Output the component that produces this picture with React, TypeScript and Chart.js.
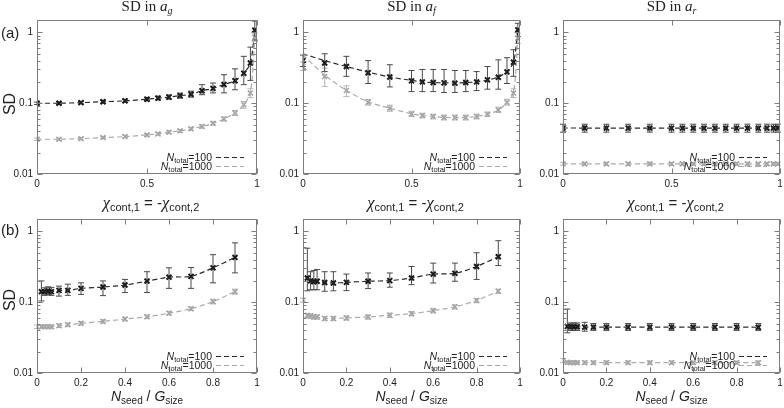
import React, { useEffect, useRef } from "react";
import { Chart, registerables } from "chart.js";

Chart.register(...registerables);

type Num = number | null;

// ---------- data: row (a), x = χcont,1 ----------
const xA = [0, 0.1, 0.2, 0.3, 0.4, 0.5, 0.55, 0.6, 0.65, 0.7, 0.75, 0.8, 0.85, 0.9, 0.94, 0.97, 0.99];
const xTicksA = [0, 0.5, 1];

const agA100 = [0.1, 0.1, 0.102, 0.105, 0.108, 0.114, 0.118, 0.122, 0.128, 0.134, 0.15, 0.162, 0.184, 0.208, 0.265, 0.37, 1.08];
const agA100Lo = [0.096, 0.096, 0.098, 0.1, 0.103, 0.108, 0.111, 0.114, 0.118, 0.122, 0.132, 0.14, 0.14, 0.155, 0.183, 0.21, 0.78];
const agA100Hi = [0.104, 0.104, 0.106, 0.11, 0.114, 0.121, 0.126, 0.131, 0.139, 0.148, 0.183, 0.193, 0.253, 0.306, 0.46, 0.62, 1.45];
const agA1000 = [0.031, 0.031, 0.0316, 0.0327, 0.0338, 0.0357, 0.0369, 0.039, 0.0407, 0.0435, 0.047, 0.052, 0.06, 0.073, 0.095, 0.139, 0.86];
const agA1000Lo = [0.0298, 0.0298, 0.0304, 0.0314, 0.0324, 0.0342, 0.0353, 0.0372, 0.0388, 0.0413, 0.0445, 0.049, 0.056, 0.067, 0.085, 0.12, 0.75];
const agA1000Hi = [0.0322, 0.0322, 0.0328, 0.034, 0.0352, 0.0372, 0.0385, 0.0408, 0.0426, 0.0457, 0.0495, 0.055, 0.064, 0.079, 0.106, 0.16, 0.98];

const afA100 = [0.4, 0.37, 0.33, 0.27, 0.235, 0.207, 0.2, 0.196, 0.194, 0.192, 0.196, 0.2, 0.214, 0.233, 0.277, 0.38, 1.09];
const afA100Lo = [0.33, 0.28, 0.24, 0.19, 0.17, 0.146, 0.146, 0.146, 0.142, 0.142, 0.146, 0.151, 0.158, 0.158, 0.19, 0.24, 0.88];
const afA100Hi = [0.48, 0.5, 0.46, 0.4, 0.35, 0.29, 0.3, 0.3, 0.3, 0.29, 0.29, 0.28, 0.33, 0.41, 0.44, 0.57, 1.35];
const afA100Fit = [0.5, 0.4, 0.33, 0.275, 0.235, 0.21, 0.2, 0.196, 0.194, 0.193, 0.196, 0.2, 0.212, 0.235, 0.28, 0.38, 1.09];
const afA1000 = [0.33, 0.238, 0.151, 0.103, 0.085, 0.0706, 0.0669, 0.0648, 0.0627, 0.0627, 0.0627, 0.0648, 0.0699, 0.0805, 0.103, 0.139, 0.83];
const afA1000Lo = [0.29, 0.172, 0.124, 0.094, 0.077, 0.065, 0.062, 0.06, 0.058, 0.058, 0.058, 0.06, 0.065, 0.074, 0.094, 0.12, 0.7];
const afA1000Hi = [0.38, 0.313, 0.176, 0.113, 0.094, 0.077, 0.072, 0.07, 0.068, 0.068, 0.068, 0.07, 0.075, 0.088, 0.114, 0.16, 0.98];
const afA1000Fit = [0.48, 0.25, 0.152, 0.105, 0.085, 0.071, 0.067, 0.065, 0.063, 0.0625, 0.063, 0.065, 0.07, 0.08, 0.103, 0.139, 0.83];

const arA100 = [0.0447, 0.0446, 0.0445, 0.0445, 0.0444, 0.0445, 0.0445, 0.0444, 0.0444, 0.0445, 0.0444, 0.0445, 0.0444, 0.0444, 0.0445, 0.0445, 0.0446];
const arA100Lo = [0.039, 0.039, 0.039, 0.039, 0.039, 0.039, 0.039, 0.039, 0.039, 0.039, 0.039, 0.039, 0.039, 0.039, 0.039, 0.039, 0.039];
const arA100Hi = [0.0505, 0.0505, 0.0505, 0.0505, 0.0505, 0.0505, 0.0505, 0.0505, 0.0505, 0.0505, 0.0505, 0.0505, 0.0505, 0.0505, 0.0505, 0.0505, 0.0505];
const arA1000 = [0.0139, 0.0139, 0.0139, 0.0139, 0.0139, 0.0139, 0.0139, 0.0139, 0.0139, 0.0139, 0.0139, 0.0139, 0.0139, 0.0139, 0.0139, 0.0139, 0.0139];
const arA1000Lo = [0.0133, 0.0133, 0.0133, 0.0133, 0.0133, 0.0133, 0.0133, 0.0133, 0.0133, 0.0133, 0.0133, 0.0133, 0.0133, 0.0133, 0.0133, 0.0133, 0.0133];
const arA1000Hi = [0.0146, 0.0146, 0.0146, 0.0146, 0.0146, 0.0146, 0.0146, 0.0146, 0.0146, 0.0146, 0.0146, 0.0146, 0.0146, 0.0146, 0.0146, 0.0146, 0.0146];

// ---------- data: row (b), x = Nseed / Gsize ----------
const xB = [0, 0.02, 0.035, 0.05, 0.065, 0.1, 0.14, 0.2, 0.3, 0.4, 0.5, 0.6, 0.7, 0.8, 0.9];
const xTicksB = [0, 0.2, 0.4, 0.6, 0.8, 1];

const agB100: Num[] = [null, 0.141, 0.141, 0.144, 0.141, 0.147, 0.147, 0.157, 0.164, 0.175, 0.199, 0.226, 0.232, 0.306, 0.43];
const agB100Lo: Num[] = [null, 0.104, 0.125, 0.128, 0.125, 0.122, 0.125, 0.129, 0.124, 0.137, 0.137, 0.157, 0.157, 0.188, 0.26];
const agB100Hi: Num[] = [null, 0.2, 0.16, 0.165, 0.162, 0.169, 0.18, 0.188, 0.2, 0.21, 0.27, 0.306, 0.31, 0.47, 0.69];
const agB1000 = [0.045, 0.045, 0.045, 0.045, 0.045, 0.0466, 0.048, 0.0503, 0.0536, 0.0578, 0.0623, 0.07, 0.081, 0.102, 0.141];
const agB1000Lo = [0.0425, 0.0425, 0.0425, 0.0425, 0.0425, 0.044, 0.0453, 0.0474, 0.0505, 0.0545, 0.0587, 0.066, 0.076, 0.095, 0.13];
const agB1000Hi = [0.0477, 0.0477, 0.0477, 0.0477, 0.0477, 0.0494, 0.0508, 0.0533, 0.0568, 0.0613, 0.066, 0.0742, 0.086, 0.11, 0.153];

const afB100: Num[] = [null, 0.22, 0.2, 0.195, 0.198, 0.19, 0.187, 0.191, 0.198, 0.202, 0.22, 0.25, 0.256, 0.32, 0.44];
const afB100Lo: Num[] = [null, 0.145, 0.15, 0.15, 0.15, 0.143, 0.145, 0.146, 0.156, 0.163, 0.177, 0.187, 0.198, 0.21, 0.33];
const afB100Hi: Num[] = [null, 0.58, 0.27, 0.28, 0.29, 0.27, 0.27, 0.25, 0.259, 0.259, 0.32, 0.357, 0.357, 0.5, 0.74];
const afB1000 = [0.107, 0.065, 0.064, 0.062, 0.062, 0.059, 0.059, 0.06, 0.062, 0.0656, 0.069, 0.076, 0.086, 0.106, 0.143];
const afB1000Lo = [0.1, 0.06, 0.0595, 0.0577, 0.0577, 0.0549, 0.0549, 0.0558, 0.0577, 0.061, 0.0642, 0.0707, 0.08, 0.0986, 0.133];
const afB1000Hi = [0.114, 0.0695, 0.0685, 0.0663, 0.0663, 0.0631, 0.0631, 0.0642, 0.0663, 0.0702, 0.0738, 0.0813, 0.092, 0.113, 0.153];

const arB100: Num[] = [null, 0.0455, 0.045, 0.045, 0.045, 0.0445, 0.0445, 0.0445, 0.0445, 0.0445, 0.0445, 0.0445, 0.0445, 0.0445, 0.0443];
const arB100Lo: Num[] = [null, 0.037, 0.04, 0.04, 0.04, 0.039, 0.04, 0.04, 0.04, 0.04, 0.04, 0.04, 0.04, 0.04, 0.04];
const arB100Hi: Num[] = [null, 0.08, 0.051, 0.051, 0.051, 0.052, 0.05, 0.05, 0.05, 0.05, 0.05, 0.05, 0.05, 0.05, 0.05];
const arB1000 = [0.015, 0.0142, 0.014, 0.014, 0.014, 0.014, 0.014, 0.014, 0.014, 0.014, 0.014, 0.014, 0.014, 0.014, 0.014];
const arB1000Lo = [0.014, 0.0133, 0.0133, 0.0133, 0.0133, 0.0133, 0.0133, 0.0133, 0.0133, 0.0133, 0.0133, 0.0133, 0.0133, 0.0133, 0.0133];
const arB1000Hi = [0.016, 0.0148, 0.0148, 0.0148, 0.0148, 0.0148, 0.0148, 0.0148, 0.0148, 0.0148, 0.0148, 0.0148, 0.0148, 0.0148, 0.0148];

const yTicks = [0.01, 0.1, 1];
const legendLabels = ["100", "1000"];
const titleSubs = ["g", "f", "r"];

// ---------- layout ----------
const SANS = '"Liberation Sans", Arial, Helvetica, sans-serif';
const SERIF = '"Liberation Serif", "Times New Roman", serif';
const COL_L = [37, 303, 563];
const COL_R = [257, 520, 780];
const ROW_T = [20, 219];
const ROW_B = [174, 373];
const PADL = 40;
const PADT = 10;
const PADR = 12;
const AXH = 24;

interface Series {
  x: number[];
  y: Num[];
  lo: Num[];
  hi: Num[];
  fit: Num[];
  fitFrom: number;
  dark: boolean;
}

function mk(x: number[], y: Num[], lo: Num[], hi: Num[], dark: boolean, fit?: Num[], fitFrom = 0): Series {
  return { x, y, lo, hi, fit: fit || y, fitFrom, dark };
}

const panels: { col: number; row: number; xTicks: number[]; series: Series[] }[] = [
  { col: 0, row: 0, xTicks: xTicksA, series: [mk(xA, agA1000, agA1000Lo, agA1000Hi, false), mk(xA, agA100, agA100Lo, agA100Hi, true)] },
  { col: 1, row: 0, xTicks: xTicksA, series: [mk(xA, afA1000, afA1000Lo, afA1000Hi, false, afA1000Fit), mk(xA, afA100, afA100Lo, afA100Hi, true, afA100Fit)] },
  { col: 2, row: 0, xTicks: xTicksA, series: [mk(xA, arA1000, arA1000Lo, arA1000Hi, false), mk(xA, arA100, arA100Lo, arA100Hi, true)] },
  { col: 0, row: 1, xTicks: xTicksB, series: [mk(xB, agB1000, agB1000Lo, agB1000Hi, false, undefined, 1), mk(xB, agB100, agB100Lo, agB100Hi, true, undefined, 1)] },
  { col: 1, row: 1, xTicks: xTicksB, series: [mk(xB, afB1000, afB1000Lo, afB1000Hi, false, undefined, 1), mk(xB, afB100, afB100Lo, afB100Hi, true, undefined, 1)] },
  { col: 2, row: 1, xTicks: xTicksB, series: [mk(xB, arB1000, arB1000Lo, arB1000Hi, false, undefined, 1), mk(xB, arB100, arB100Lo, arB100Hi, true, undefined, 1)] },
];

function decorPlugin(series: Series[], xTicks: number[]) {
  return {
    id: "decor",
    beforeDatasetsDraw(chart: any) {
      const { ctx, chartArea: a, scales } = chart;
      const xs = scales.x;
      const ys = scales.y;
      ctx.save();
      ctx.beginPath();
      ctx.rect(a.left - 4, a.top, a.right - a.left + 8, a.bottom - a.top);
      ctx.clip();
      for (const s of series) {
        ctx.strokeStyle = s.dark ? "#4a4a4a" : "#b5b5b5";
        ctx.lineWidth = 1;
        s.x.forEach((xv, i) => {
          const lo = s.lo[i];
          const hi = s.hi[i];
          if (lo == null || hi == null) return;
          const px = xs.getPixelForValue(xv);
          const p1 = ys.getPixelForValue(lo);
          const p2 = ys.getPixelForValue(hi);
          ctx.beginPath();
          ctx.moveTo(px, p1);
          ctx.lineTo(px, p2);
          ctx.moveTo(px - 3, p1);
          ctx.lineTo(px + 3, p1);
          ctx.moveTo(px - 3, p2);
          ctx.lineTo(px + 3, p2);
          ctx.stroke();
        });
      }
      ctx.restore();
    },
    afterDraw(chart: any) {
      const { ctx, chartArea: a, scales } = chart;
      const xs = scales.x;
      const ys = scales.y;
      const l = Math.round(a.left) + 0.5;
      const r = Math.round(a.right) - 0.5;
      const t = Math.round(a.top) + 0.5;
      const b = Math.round(a.bottom) - 0.5;
      ctx.save();
      ctx.strokeStyle = "#7d7d7d";
      ctx.lineWidth = 1;
      ctx.strokeRect(l, t, r - l, b - t);
      ctx.beginPath();
      for (const v of xTicks) {
        const px = Math.round(xs.getPixelForValue(v)) + 0.5;
        ctx.moveTo(px, b);
        ctx.lineTo(px, b - 5);
        ctx.moveTo(px, t);
        ctx.lineTo(px, t + 5);
      }
      for (const dec of yTicks) {
        for (let m = 1; m <= 9; m++) {
          const v = dec * m;
          if (v > ys.max) continue;
          const len = m === 1 ? 5 : 3;
          const py = Math.round(ys.getPixelForValue(v)) + 0.5;
          ctx.moveTo(l, py);
          ctx.lineTo(l + len, py);
          ctx.moveTo(r, py);
          ctx.lineTo(r - len, py);
        }
      }
      ctx.stroke();
      ctx.restore();
    },
  };
}

function Panel({ col, row, xTicks, series }: { col: number; row: number; xTicks: number[]; series: Series[] }) {
  const ref = useRef<HTMLCanvasElement>(null);
  const left = COL_L[col] - PADL;
  const top = ROW_T[row] - PADT;
  const w = COL_R[col] - COL_L[col] + PADL + PADR;
  const h = ROW_B[row] - ROW_T[row] + PADT + AXH;

  useEffect(() => {
    const datasets: any[] = [];
    for (const s of series) {
      const color = s.dark ? "#1a1a1a" : "#a3a3a3";
      const fitPts: { x: number; y: number }[] = [];
      s.x.forEach((xv, i) => {
        const v = s.fit[i];
        if (i >= s.fitFrom && v != null) fitPts.push({ x: xv, y: v });
      });
      datasets.push({
        type: "line",
        data: fitPts,
        borderColor: s.dark ? "#2a2a2a" : "#ababab",
        borderWidth: 1.2,
        borderDash: [5, 3],
        pointRadius: 0,
        fill: false,
        tension: 0.3,
      });
      const pts: { x: number; y: number }[] = [];
      s.x.forEach((xv, i) => {
        const v = s.y[i];
        if (v != null) pts.push({ x: xv, y: v });
      });
      datasets.push({
        type: "scatter",
        data: pts,
        pointStyle: "crossRot",
        pointRadius: 3.5,
        borderColor: color,
        backgroundColor: color,
        borderWidth: s.dark ? 2 : 1.5,
        showLine: false,
      });
    }
    const tickFont = { family: SANS, size: 10 };
    const chart = new Chart(ref.current as HTMLCanvasElement, {
      type: "scatter",
      data: { datasets },
      plugins: [decorPlugin(series, xTicks)],
      options: {
        animation: false,
        responsive: false,
        events: [],
        layout: { padding: { top: PADT, right: PADR, left: 0, bottom: 0 } },
        plugins: { legend: { display: false }, tooltip: { enabled: false }, title: { display: false } },
        scales: {
          x: {
            type: "linear",
            min: 0,
            max: 1,
            grid: { display: false, drawTicks: false },
            border: { display: false },
            afterBuildTicks: (s: any) => {
              s.ticks = xTicks.map((v) => ({ value: v }));
            },
            afterFit: (s: any) => {
              s.height = AXH;
            },
            ticks: {
              font: tickFont,
              color: "#222",
              padding: 4,
              maxRotation: 0,
              autoSkip: false,
              callback: (v: any) => String(v),
            },
          },
          y: {
            type: "logarithmic",
            min: 0.01,
            max: 1.5,
            grid: { display: false, drawTicks: false },
            border: { display: false },
            afterBuildTicks: (s: any) => {
              s.ticks = yTicks.map((v) => ({ value: v }));
            },
            afterFit: (s: any) => {
              s.width = PADL;
            },
            ticks: {
              font: tickFont,
              color: "#222",
              padding: 4,
              autoSkip: false,
              callback: (v: any) => String(v),
            },
          },
        },
      } as any,
    });
    return () => chart.destroy();
  }, []);

  return (
    <canvas
      ref={ref}
      width={w}
      height={h}
      style={{ position: "absolute", left, top, width: w, height: h }}
    />
  );
}

function SubText({ children, size, dy }: { children: React.ReactNode; size: number; dy: number }) {
  return <span style={{ fontSize: size, position: "relative", top: dy }}>{children}</span>;
}

function Chi() {
  return <span style={{ fontFamily: SERIF, fontStyle: "italic", fontSize: "1.1em" }}>χ</span>;
}

function Legend({ col, row }: { col: number; row: number }) {
  const R = COL_R[col];
  const B = ROW_B[row];
  const rows = [B - 17, B - 8];
  return (
    <>
      {legendLabels.map((lab, i) => (
        <React.Fragment key={lab}>
          <div
            style={{
              position: "absolute",
              right: 784 - (R - 45),
              top: rows[i] - 6,
              font: `10.5px ${SANS}`,
              lineHeight: "12px",
              color: "#222",
              whiteSpace: "nowrap",
            }}
          >
            <i>N</i>
            <SubText size={7.5} dy={2}>total</SubText>={lab}
          </div>
          <svg
            width={28}
            height={3}
            style={{ position: "absolute", left: R - 41, top: rows[i] - 1 }}
          >
            <line
              x1={0}
              y1={1.5}
              x2={28}
              y2={1.5}
              stroke={i === 0 ? "#2a2a2a" : "#ababab"}
              strokeWidth={1.2}
              strokeDasharray="5 3"
            />
          </svg>
        </React.Fragment>
      ))}
    </>
  );
}

export default function App() {
  const centers = COL_L.map((l, i) => (l + COL_R[i]) / 2);
  return (
    <div
      style={{
        position: "absolute",
        left: 0,
        top: 0,
        width: 784,
        height: 408,
        overflow: "hidden",
        background: "#fff",
      }}
    >
      {panels.map((p, i) => (
        <Panel key={i} {...p} />
      ))}
      {centers.map((cx, i) => (
        <div
          key={"t" + i}
          style={{
            position: "absolute",
            left: cx - 80,
            width: 160,
            top: -1,
            textAlign: "center",
            font: `15px ${SERIF}`,
            lineHeight: "15px",
            color: "#222",
            whiteSpace: "nowrap",
          }}
        >
          SD in <i>a</i>
          <span style={{ fontSize: 10, fontStyle: "italic", position: "relative", top: 3 }}>{titleSubs[i]}</span>
        </div>
      ))}
      {centers.map((cx, i) => (
        <div
          key={"c" + i}
          style={{
            position: "absolute",
            left: cx - 90 + 4,
            width: 180,
            top: 195,
            textAlign: "center",
            font: `15px ${SANS}`,
            lineHeight: "16px",
            color: "#222",
            whiteSpace: "nowrap",
          }}
        >
          <Chi />
          <SubText size={11} dy={3}>cont,1</SubText> = -<Chi />
          <SubText size={11} dy={3}>cont,2</SubText>
        </div>
      ))}
      {centers.map((cx, i) => (
        <div
          key={"n" + i}
          style={{
            position: "absolute",
            left: cx - 80,
            width: 160,
            top: 389,
            textAlign: "center",
            font: `14px ${SANS}`,
            lineHeight: "14px",
            color: "#222",
            whiteSpace: "nowrap",
          }}
        >
          <i>N</i>
          <SubText size={10} dy={3}>seed</SubText> / <i>G</i>
          <SubText size={10} dy={3}>size</SubText>
        </div>
      ))}
      {["(a)", "(b)"].map((t, i) => (
        <div
          key={t}
          style={{
            position: "absolute",
            left: 1,
            top: i === 0 ? 25 : 222,
            font: `15px ${SANS}`,
            lineHeight: "15px",
            color: "#222",
          }}
        >
          {t}
        </div>
      ))}
      {[104, 300].map((cy, i) => (
        <div
          key={"sd" + i}
          style={{
            position: "absolute",
            left: 10,
            top: cy,
            transform: "translate(-50%, -50%) rotate(-90deg)",
            font: `16px ${SANS}`,
            lineHeight: "16px",
            color: "#222",
            whiteSpace: "nowrap",
          }}
        >
          SD
        </div>
      ))}
      {panels.map((p, i) => (
        <Legend key={"l" + i} col={p.col} row={p.row} />
      ))}
    </div>
  );
}
